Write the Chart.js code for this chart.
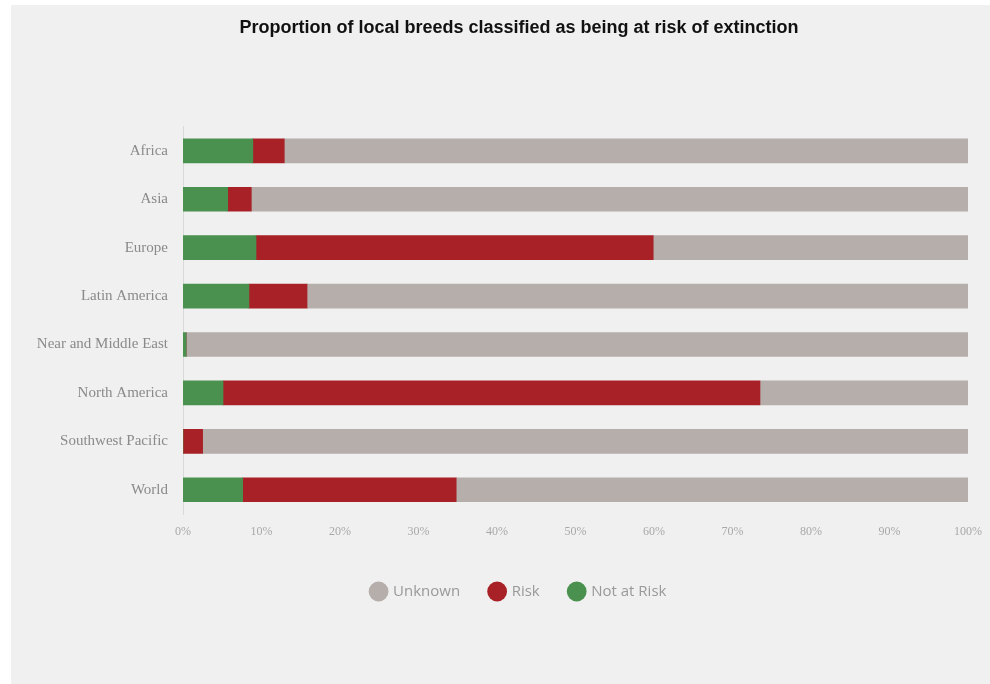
<!DOCTYPE html>
<html>
<head>
<meta charset="utf-8">
<script src="https://cdn.jsdelivr.net/npm/chart.js@4.4.1/dist/chart.umd.min.js"></script>
<style>
    html, body { margin: 0; padding: 0; background: #ffffff; overflow: hidden; }
    #panel {
        position: absolute;
        left: 11px;
        top: 5px;
        width: 979px;
        height: 679px;
        background: #f0f0f0;
        overflow: hidden;
    }
    #chart { display: block; }
</style>
</head>
<body>
<div id="panel">
    <canvas id="chart" width="1016" height="679"></canvas>
</div>
<script>
const regions = [
    "Africa",
    "Asia",
    "Europe",
    "Latin America",
    "Near and Middle East",
    "North America",
    "Southwest Pacific",
    "World",
];

// percent of local breeds
const notAtRisk = [8.9, 5.7, 9.3, 8.4, 0.4, 5.1, 0, 7.6];
const risk = [4.0, 3.0, 50.6, 7.4, 0, 68.4, 2.5, 27.2];
const unknown = [87.1, 91.3, 40.1, 84.2, 99.6, 26.5, 97.5, 65.2];

const xTicks = [0, 10, 20, 30, 40, 50, 60, 70, 80, 90, 100];

const colors = {
    notAtRisk: "#4a914f",
    risk: "#a72126",
    unknown: "#b5aeab",
};

// y labels are wider than the y scale box, stop them being clipped
const unclipLabels = {
    id: "unclipLabels",
    afterLayout(chart) {
        chart.scales.y.left = 0;
    },
};

const config = {
    type: "bar",
    data: {
        labels: regions,
        datasets: [
            { label: "Not at Risk", data: notAtRisk, backgroundColor: colors.notAtRisk },
            { label: "Risk", data: risk, backgroundColor: colors.risk },
            { label: "Unknown", data: unknown, backgroundColor: colors.unknown },
        ],
    },
    options: {
        indexAxis: "y",
        responsive: false,
        animation: false,
        maintainAspectRatio: false,
        layout: {
            // left padding moves the centre of title and legend to the right
            padding: { left: 59, right: 59, top: 0, bottom: 75 },
        },
        datasets: {
            bar: { barThickness: 24, borderWidth: 0 },
        },
        scales: {
            x: {
                stacked: true,
                min: 0,
                max: 100,
                afterBuildTicks: (scale) => {
                    scale.ticks = xTicks.map((v) => ({ value: v }));
                },
                afterFit: (scale) => {
                    scale.height = 40;
                },
                grid: { display: false },
                border: { display: false },
                ticks: {
                    padding: 3,
                    color: "#a8a8a8",
                    font: { family: "'Liberation Serif', 'Times New Roman', serif", size: 12 },
                    callback: (v) => v + "%",
                },
            },
            y: {
                stacked: true,
                afterFit: (scale) => {
                    scale.width = 113;
                },
                grid: { display: false, drawTicks: false },
                border: { display: true, color: "#d9d9d9", width: 1 },
                ticks: {
                    padding: 15,
                    color: "#8a8a8a",
                    font: { family: "'Liberation Serif', 'Times New Roman', serif", size: 15 },
                },
            },
        },
        plugins: {
            title: {
                display: true,
                text: "Proportion of local breeds classified as being at risk of extinction",
                color: "#111111",
                font: { family: "'Liberation Sans', Arial, sans-serif", size: 18, weight: "bold" },
                padding: { top: 12, bottom: 88 },
            },
            legend: {
                position: "bottom",
                reverse: true,
                labels: {
                    usePointStyle: true,
                    pointStyle: "circle",
                    boxHeight: 14,
                    boxWidth: 14,
                    padding: 30,
                    color: "#999999",
                    font: { family: "'Open Sans', sans-serif", size: 15 },
                },
            },
            tooltip: { enabled: false },
        },
    },
    plugins: [unclipLabels],
};

const canvas = document.getElementById("chart");
const myChart = new Chart(canvas, config);
</script>
</body>
</html>
